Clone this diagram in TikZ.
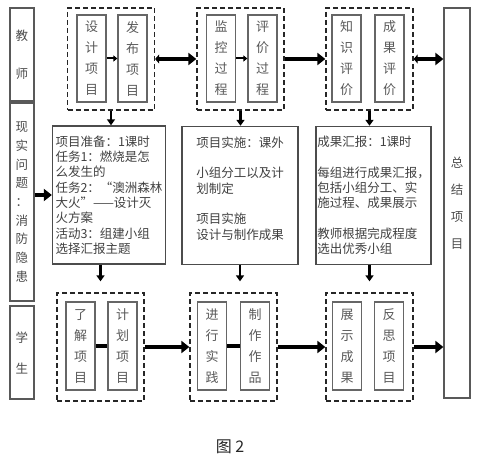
\documentclass[tikz,border=0pt]{standalone}
\usepackage{fontspec}
\setmainfont{Noto Sans CJK SC}
\usetikzlibrary{positioning}
\usetikzlibrary{arrows.meta,calc}
\tikzstyle{side} = [draw=black!65, line width=1.2pt, minimum width=24pt, inner sep=0pt, align=center, text=black!70, font=\fontsize{12.5}{18.7}\selectfont]
\tikzstyle{cell} = [draw=black!60, line width=1.2pt, minimum width=29pt, minimum height=87pt, inner sep=0pt, align=center, text=black!65, font=\fontsize{13}{21}\selectfont]
\tikzstyle{group} = [draw=black!85, line width=1.3pt, dash pattern=on 5pt off 3pt, minimum width=87pt, inner sep=0pt]
\tikzstyle{plan} = [draw=black!70, line width=1.4pt, align=left, inner sep=3pt, text=black!75, minimum height=138pt, font=\fontsize{12.5}{15.3}\selectfont]
\tikzstyle{arrow} = [line width=4.5pt, -{Triangle[length=8pt,width=12pt]}]
\tikzstyle{twoway} = [line width=4.5pt, {Triangle[length=4pt,width=9pt]}-{Triangle[length=8pt,width=12pt]}]
\tikzstyle{down} = [line width=2.5pt, -{Triangle[length=6pt,width=8pt]}]
\tikzstyle{link} = [line width=2pt, -{Triangle[length=4pt,width=6pt]}]
\tikzstyle{bar} = [line width=3.5pt]

\begin{document}
\begin{tikzpicture}[x=1pt,y=-1pt]
\useasboundingbox (0,0) rectangle (479,460);
% left column
\node[side, minimum height=93pt, font=\fontsize{12.5}{38}\selectfont] (teacher) at (22,54.5) {教\\师};
\node[side, minimum height=198pt] (real) at (22,202) {现\\实\\问\\题\\：\\消\\防\\隐\\患};
\node[side, minimum height=93pt, font=\fontsize{12.5}{31}\selectfont] (student) at (22,352.5) {学\\生};
\node[side, minimum width=26pt, minimum height=390pt, font=\fontsize{12.5}{27}\selectfont] (sum) at (457,203) {总\\结\\项\\目};
% teacher row
\node[group, minimum height=102pt] (tg1) at (111,59) {};
\node[group, minimum height=102pt] (tg2) at (240.5,59) {};
\node[group, minimum height=102pt] (tg3) at (369.5,59) {};
\node[cell] (design) at (91.5,58.5) {设\\计\\项\\目};
\node[cell] (publish) at (132.5,58.5) {发\\布\\项\\目};
\node[cell] (monitor) at (221,58.5) {监\\控\\过\\程};
\node[cell] (judge) at (262.5,58.5) {评\\价\\过\\程};
\node[cell] (know) at (346.5,58.5) {知\\识\\评\\价};
\node[cell] (result) at (389.5,58.5) {成\\果\\评\\价};
% middle row
\node[plan, minimum width=108pt] (plan1) at (109,195) {项目准备：1课时\\任务1：燃烧是怎\\么发生的\\任务2：“澳洲森林\\大火”——设计灭\\火方案\\活动3：组建小组\\选择汇报主题};
\node[plan, minimum width=116pt] (plan2) at (240,195.5) {项目实施：课外\\ \\小组分工以及计\\划制定\\ \\项目实施\\设计与制作成果\\ };
\node[plan, minimum width=115pt, inner sep=1pt] (plan3) at (373.5,195.5) {成果汇报：1课时\\ \\每组进行成果汇报，\\包括小组分工、实\\施过程、成果展示\\ \\教师根据完成程度\\选出优秀小组};
% student row
\node[group, minimum height=108pt] (bg1) at (100.5,347) {};
\node[group, minimum height=108pt] (bg2) at (233.5,347) {};
\node[group, minimum height=108pt] (bg3) at (369.5,347) {};
\node[cell, minimum height=88pt] (learn) at (80.5,346) {了\\解\\项\\目};
\node[cell, minimum height=88pt] (schedule) at (122.5,346) {计\\划\\项\\目};
\node[cell, minimum height=88pt] (practice) at (212,346) {进\\行\\实\\践};
\node[cell, minimum height=88pt] (make) at (255,346) {制\\作\\作\\品};
\node[cell, minimum height=88pt] (show) at (347,346) {展\\示\\成\\果};
\node[cell, minimum height=88pt] (reflect) at (389,346) {反\\思\\项\\目};
\node[text=black!85, font=\fontsize{16}{16}\selectfont] (cap) at (230,447) {图 2};
% connectors
\draw[link] (design) -- (publish);
\draw[link] (monitor) -- (judge);
\draw[twoway] (tg1.east) -- (tg2.west);
\draw[arrow] (tg2.east) -- (tg3.west);
\draw[twoway] (tg3.east) -- (tg3.east -| sum.west);
\draw[down] (tg1.south) -- (tg1.south |- plan1.north);
\draw[down] (tg2.south) -- (tg2.south |- plan2.north);
\draw[down] (tg3.south) -- (tg3.south |- plan3.north);
\draw[arrow] (real.east |- plan1.west) -- (plan1.west);
\draw[down, shorten >=11pt] (bg1.north |- plan1.south) -- (bg1.north);
\draw[down, shorten >=11pt] (plan2.south) -- (plan2.south |- bg2.north);
\draw[down, shorten >=11pt] (bg3.north |- plan3.south) -- (bg3.north);
\draw[bar] (learn) -- (schedule);
\draw[bar] (practice) -- (make);
\draw[arrow] (bg1.east) -- (bg2.west);
\draw[arrow] (bg2.east) -- (bg3.west);
\draw[arrow] (bg3.east) -- (bg3.east -| sum.west);
\end{tikzpicture}
\end{document}
